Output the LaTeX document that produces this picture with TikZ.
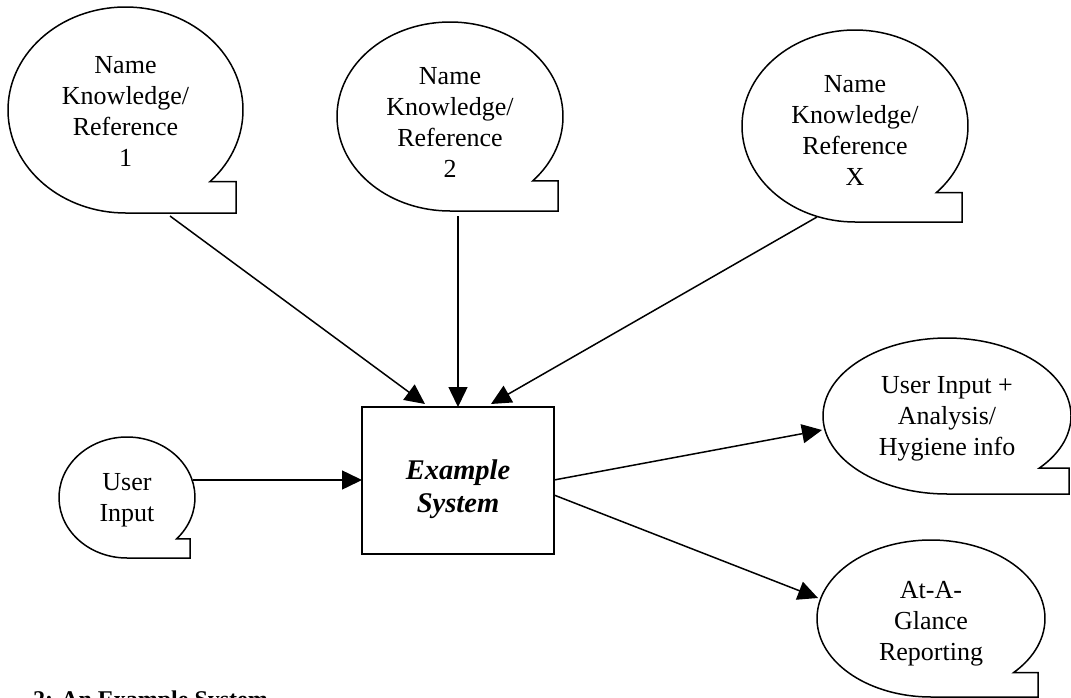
\documentclass[tikz,border=0pt]{standalone}
\usepackage{fontspec}
\setmainfont{Liberation Serif}
\usetikzlibrary{arrows.meta}
% cx, cy, x radius, y radius, tail angle, tail right x
\newcommand\speechbub[6]{%
  \draw[bubble] ({#1+#3*cos(#5)},{#2+#4*sin(#5)})
    arc[start angle=#5,end angle=-270,x radius=#3,y radius=#4]
    -- (#6,{#2+#4}) -- (#6,{#2+#4*sin(#5)}) -- cycle;}
\begin{document}
\begin{tikzpicture}[x=1pt,y=-1pt,
  bubble/.style={draw=black,line width=1.5pt,line join=miter,fill=white},
  btext/.style={align=center,font=\fontsize{26}{31}\selectfont,inner sep=0pt},
  conn/.style={draw=black,line width=1.5pt,-{Triangle[length=20pt,width=19pt]}},
  sysbox/.style={draw=black,line width=1.5pt,minimum width=192pt,minimum height=147pt,inner sep=0pt}
]
\useasboundingbox (0,0) rectangle (1071,698);
\fill[white] (0,0) rectangle (1071,698);

% speech bubbles
\speechbub{125.5}{110}{117.5}{103}{44}{236}
\speechbub{450}{116.5}{113}{94.5}{43}{558}
\speechbub{855}{126}{113}{96}{44}{962}
\speechbub{127}{497.5}{68}{60.5}{43}{190}
\speechbub{947}{416}{124}{78}{42}{1069}
\speechbub{931}{618.5}{114}{78.5}{43.5}{1038}

% texts
\node[btext] (k1) at (125.5,111) {Name\\Knowledge/\\Reference\\1};
\node[btext] (k2) at (450,122.5) {Name\\Knowledge/\\Reference\\2};
\node[btext] (kx) at (855,130) {Name\\Knowledge/\\Reference\\X};
\node[btext] (ui) at (127,500) {User\\Input};
\node[btext] (o1) at (947,419) {User Input +\\Analysis/\\Hygiene info};
\node[btext] (o2) at (931,624) {At-A-\\Glance\\Reporting};

% system box
\node[sysbox] (sys) at (458,480.5) {};
\node[align=center,inner sep=0pt,font=\fontsize{28.5}{33}\selectfont\bfseries\itshape] (systxt) at (458,489) {Example\\System};

% caption (cut by the lower edge, as in the reference)
\node[anchor=base west,inner sep=0pt,font=\fontsize{24}{28}\selectfont\bfseries] (cap) at (33,707) {2: An Example System};

% connector end points
\coordinate (k1out) at (170,216);
\coordinate (k2out) at (458,216);
\coordinate (kxout) at (817,217);
\coordinate (uiout) at (193,480);
\coordinate (s1in) at (425,404);
\coordinate (s2in) at (458,407);
\coordinate (s3in) at (491,404);
\coordinate (suin) at (362,480);
\coordinate (so1) at (554,480);
\coordinate (so2) at (554,495);
\coordinate (o1in) at (822,430);
\coordinate (o2in) at (818,598);

\draw[conn] (k1out) -- (s1in);
\draw[conn] (k2out) -- (s2in);
\draw[conn] (kxout) -- (s3in);
\draw[conn] (uiout) -- (suin);
\draw[conn] (so1) -- (o1in);
\draw[conn] (so2) -- (o2in);
\end{tikzpicture}
\end{document}
